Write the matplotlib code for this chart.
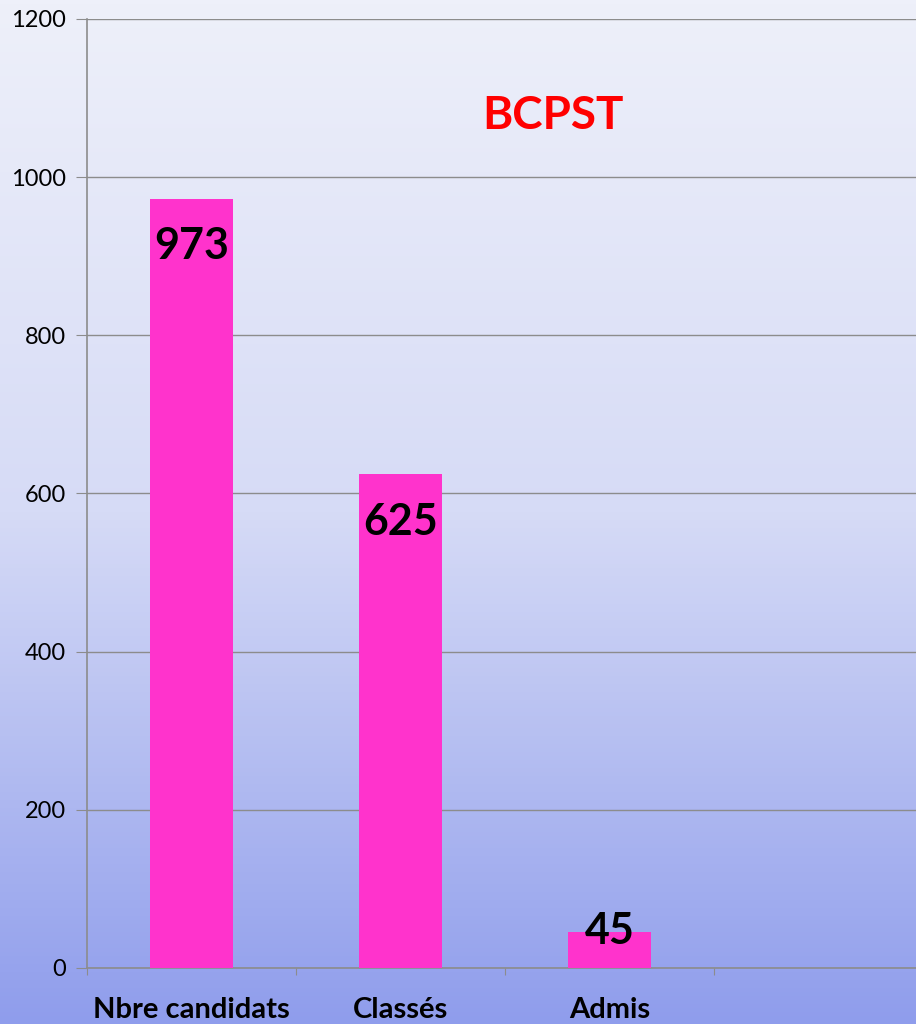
import matplotlib
matplotlib.use("Agg")
import matplotlib.pyplot as plt
import numpy as np
from matplotlib.colors import LinearSegmentedColormap

categories = ["Nbre candidats", "Classés", "Admis"]
values = [973, 625, 45]
yticks = [0, 200, 400, 600, 800, 1000, 1200]
title = "BCPST"

plt.rcParams['font.family'] = ['Lato', 'DejaVu Sans']

fig = plt.figure(figsize=(9.16, 10.24), dpi=100)

# background gradient
bg = fig.add_axes([0, 0, 1, 1], zorder=-10)
cmap = LinearSegmentedColormap.from_list("bg", ["#EEF0FA", "#D6DBF6", "#8F9DEC"])
grad = np.linspace(0, 1, 256).reshape(-1, 1)
bg.imshow(grad, aspect='auto', cmap=cmap, extent=[0, 1, 0, 1], origin='upper')
bg.set_axis_off()

ax = fig.add_axes([87/916, 56/1024, (916-87)/916, 949/1024])
ax.patch.set_alpha(0)

x = np.arange(len(categories))
ax.bar(x, values, width=0.40, color="#FF33CC", zorder=3)

ax.set_ylim(0, 1200)
ax.set_xlim(-0.5, -0.5 + 829/209)
ax.set_yticks(yticks)
ax.yaxis.grid(True, color="#8C8C8C", linewidth=1.0, zorder=0)
for s in ["top", "right"]:
    ax.spines[s].set_visible(False)
for s in ["left", "bottom"]:
    ax.spines[s].set_color("#8C8C8C")
    ax.spines[s].set_linewidth(1.2)

ax.tick_params(axis='y', length=8, color="#8C8C8C", labelsize=17, pad=7)
ax.set_xticks([-0.5, 0.5, 1.5, 2.5])
ax.set_xticklabels([])
ax.tick_params(axis='x', which='major', length=5, color="#8C8C8C")
ax.set_xticks(x, minor=True)
ax.set_xticklabels(categories, minor=True, fontsize=21, fontweight='bold')
ax.tick_params(axis='x', which='minor', length=0, pad=21)

for xi, v in zip(x, values):
    if v > 100:
        ax.annotate(str(v), (xi, v), xytext=(0, -20), textcoords='offset points',
                    ha='center', va='top', fontsize=31, fontweight='bold', zorder=5)
    else:
        ax.annotate(str(v), (xi, v), xytext=(0, 1), textcoords='offset points',
                    ha='center', va='center', fontsize=31, fontweight='bold', zorder=5)

ax.text(0.562, 0.898, title, transform=ax.transAxes, ha='center', va='center',
        color='#FF0000', fontsize=33, fontweight='bold')

fig.savefig("out.png", dpi=100)
